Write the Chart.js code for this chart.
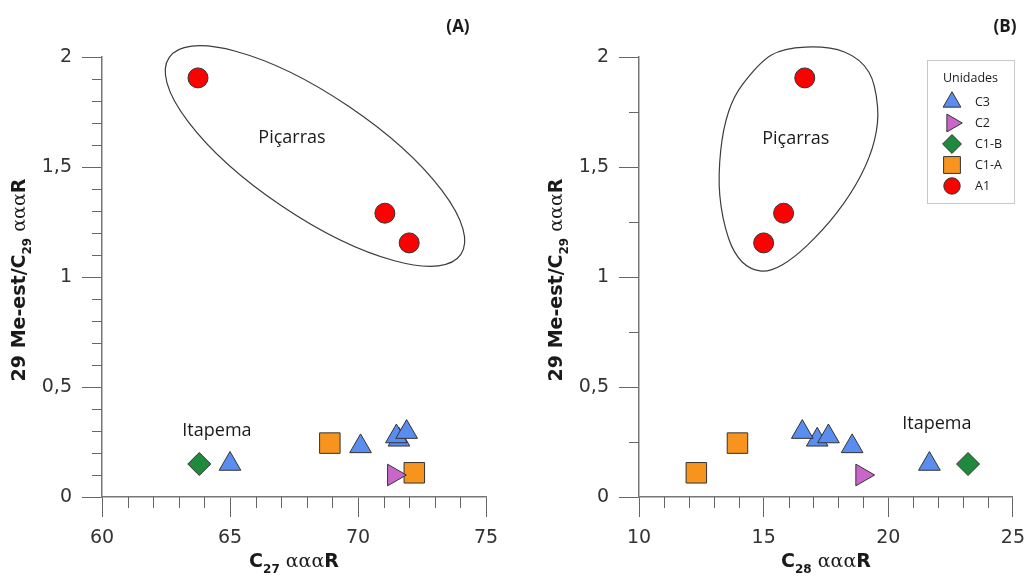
<!DOCTYPE html>
<html lang="pt">
<head>
<meta charset="utf-8">
<title>29 Me-est/C29 αααR vs C27 e C28 αααR</title>
<script src="https://cdn.jsdelivr.net/npm/chart.js@4.4.1/dist/chart.umd.min.js"></script>
<style>
  html, body { margin: 0; padding: 0; background: #fff; }
  canvas { position: absolute; top: 0; }
  #painelA { left: 0; }
  #painelB { left: 517px; }
</style>
</head>
<body>
<canvas id="painelA" width="517" height="578"></canvas>
<canvas id="painelB" width="518" height="578"></canvas>
<script>
// Unidades (legenda)
const unidades = ['C3', 'C2', 'C1-B', 'C1-A', 'A1'];

// 29 Me-est/C29 αααR — mesmo eixo y nos dois painéis
const meEstC3 = [0.15, 0.23, 0.26, 0.275, 0.295];
const meEstC2 = [0.10];
const meEstC1B = [0.15];
const meEstC1A = [0.245, 0.11];
const meEstA1 = [1.905, 1.29, 1.155];

// C27 αααR — painel (A)
const c27C3 = [65.0, 70.1, 71.6, 71.5, 71.9];
const c27C2 = [71.4];
const c27C1B = [63.8];
const c27C1A = [68.9, 72.2];
const c27A1 = [63.75, 71.05, 72.0];

// C28 αααR — painel (B)
const c28C3 = [21.65, 18.55, 17.15, 17.6, 16.55];
const c28C2 = [18.95];
const c28C1B = [23.2];
const c28C1A = [13.95, 12.3];
const c28A1 = [16.65, 15.8, 15.0];

// marcas com rótulo
const ticksY = [0, 0.5, 1, 1.5, 2];
const ticksXA = [60, 65, 70, 75];
const ticksXB = [10, 15, 20, 25];

const meEst = [meEstC3, meEstC2, meEstC1B, meEstC1A, meEstA1];

const estilos = [
  { forma: 'triangle', rot: 0,  r: 12.5, cor: '#5a8def' },
  { forma: 'triangle', rot: 90, r: 12.5, cor: '#c966c9' },
  { forma: 'rectRot',  rot: 0,  r: 11.5, cor: '#1f8a3c' },
  { forma: 'rect',     rot: 0,  r: 14.5, cor: '#f7941d' },
  { forma: 'circle',   rot: 0,  r: 10,   cor: '#ff0000' }
];

// contorno do grupo Piçarras no painel (B), em coordenadas dos dados
const contornoB = [
  [14.14, 1.873], [15.31, 2.009], [16.68, 2.045], [18.24, 2.023], [19.22, 1.932],
  [19.57, 1.773], [19.45, 1.623], [18.91, 1.464], [17.93, 1.291], [16.76, 1.145],
  [15.74, 1.055], [14.92, 1.027], [14.14, 1.068], [13.59, 1.177], [13.24, 1.373],
  [13.28, 1.577], [13.59, 1.75]
];

const pares = (xs, ys) => xs.map((x, i) => ({ x: x, y: ys[i] }));
const virgula = v => String(v).replace('.', ',');

// curva fechada suave (Catmull-Rom) passando pelos pontos
function curvaFechada(ctx, pts) {
  const n = pts.length;
  ctx.beginPath();
  ctx.moveTo(pts[0].x, pts[0].y);
  for (let i = 0; i < n; i++) {
    const p0 = pts[(i - 1 + n) % n], p1 = pts[i], p2 = pts[(i + 1) % n], p3 = pts[(i + 2) % n];
    ctx.bezierCurveTo(
      p1.x + (p2.x - p0.x) / 6, p1.y + (p2.y - p0.y) / 6,
      p2.x - (p3.x - p1.x) / 6, p2.y - (p3.y - p1.y) / 6,
      p2.x, p2.y);
  }
  ctx.closePath();
  ctx.stroke();
}

// texto com subscrito e fontes misturadas
function textoRico(ctx, partes, cx, cy, angulo) {
  ctx.save();
  ctx.translate(cx, cy);
  ctx.rotate(angulo);
  ctx.textAlign = 'left';
  ctx.textBaseline = 'alphabetic';
  ctx.fillStyle = '#1a1a1a';
  let total = 0;
  partes.forEach(p => { ctx.font = p.f; p.w = ctx.measureText(p.t).width; total += p.w; });
  let x = -total / 2;
  partes.forEach(p => { ctx.font = p.f; ctx.fillText(p.t, x, p.dy || 0); x += p.w; });
  ctx.restore();
}

const fTit = 'bold 19px "DejaVu Sans"';
const fSub = 'bold 12px "DejaVu Sans"';
const fAlfa = '19px "DejaVu Serif"';

function tituloX(n) {
  return [{ t: 'C', f: fTit }, { t: n, f: fSub, dy: 6 }, { t: ' ααα', f: fAlfa }, { t: 'R', f: fTit }];
}
const tituloY = [
  { t: '29 Me-est/C', f: fTit }, { t: '29', f: fSub, dy: 6 },
  { t: ' ααα', f: fAlfa }, { t: 'R', f: fTit }
];

function extrasPara(cfg) {
  return {
    id: 'extras',
    beforeDatasetsDraw(chart) {
      const { ctx, scales: { x, y } } = chart;
      ctx.save();
      ctx.strokeStyle = '#3c3c3c';
      ctx.lineWidth = 1.2;
      if (cfg.elipse) {
        const e = cfg.elipse;
        ctx.beginPath();
        ctx.ellipse(x.getPixelForValue(e.x), y.getPixelForValue(e.y), e.a, e.b, e.ang * Math.PI / 180, 0, 2 * Math.PI);
        ctx.stroke();
      }
      if (cfg.contorno) {
        curvaFechada(ctx, cfg.contorno.map(([a, b]) => ({ x: x.getPixelForValue(a), y: y.getPixelForValue(b) })));
      }
      ctx.restore();
    },
    afterDraw(chart) {
      const { ctx, scales: { x, y }, chartArea: ca } = chart;
      ctx.save();

      // marcas secundárias
      ctx.strokeStyle = '#666';
      ctx.lineWidth = 1;
      ctx.beginPath();
      for (let v = x.min + cfg.menorX; v < x.max - 1e-9; v += cfg.menorX) {
        const r = Math.round(v * 1000) / 1000;
        if (cfg.ticksX.includes(r)) continue;
        const px = Math.round(x.getPixelForValue(r)) + 0.5;
        ctx.moveTo(px, ca.bottom); ctx.lineTo(px, ca.bottom + 11);
      }
      for (let v = y.min + cfg.menorY; v < y.max - 1e-9; v += cfg.menorY) {
        const r = Math.round(v * 1000) / 1000;
        if (ticksY.includes(r)) continue;
        const py = Math.round(y.getPixelForValue(r)) + 0.5;
        ctx.moveTo(ca.left - 10, py); ctx.lineTo(ca.left, py);
      }
      ctx.stroke();

      // nomes dos grupos
      ctx.fillStyle = '#1a1a1a';
      ctx.font = '18px "Open Sans"';
      ctx.textAlign = 'center';
      ctx.textBaseline = 'middle';
      cfg.rotulos.forEach(r => ctx.fillText(r.texto, x.getPixelForValue(r.x), y.getPixelForValue(r.y)));

      // letra do painel
      ctx.font = 'bold 17px "Open Sans"';
      ctx.fillText(cfg.letra, cfg.letraPos[0], cfg.letraPos[1]);

      // títulos dos eixos
      textoRico(ctx, tituloX(cfg.sub), (ca.left + ca.right) / 2, 567, 0);
      textoRico(ctx, tituloY, cfg.tituloYx, 280, -Math.PI / 2);

      // legenda
      if (cfg.legenda) {
        const L = cfg.legenda;
        ctx.strokeStyle = '#c8c8c8';
        ctx.strokeRect(L.x + 0.5, L.y + 0.5, L.w, L.h);
        ctx.fillStyle = '#1a1a1a';
        ctx.font = '12.5px "Open Sans"';
        ctx.textAlign = 'center';
        ctx.fillText('Unidades', L.x + L.w / 2, L.y + 18);
        ctx.textAlign = 'left';
        unidades.forEach((u, i) => {
          const e = estilos[i];
          const yy = L.y + 42 + i * 21;
          ctx.fillStyle = e.cor;
          ctx.strokeStyle = '#333';
          ctx.lineWidth = 1;
          Chart.helpers.drawPoint(ctx, { pointStyle: e.forma, rotation: e.rot, radius: e.r * 0.82, borderWidth: 1 }, L.x + 25, yy);
          ctx.fillStyle = '#1a1a1a';
          ctx.fillText(u, L.x + 48, yy);
        });
      }
      ctx.restore();
    }
  };
}

function criarPainel(id, cfg) {
  const eixo = {
    grid: { drawOnChartArea: false, drawTicks: true, tickLength: 20, tickColor: '#666', tickWidth: 1 },
    border: { color: '#777', width: 1.5 },
    ticks: { font: { family: 'DejaVu Sans', size: 19 }, color: '#333', padding: 10, maxRotation: 0, callback: virgula }
  };
  return new Chart(document.getElementById(id), {
    type: 'scatter',
    data: {
      datasets: unidades.map((u, i) => ({
        label: u,
        data: pares(cfg.xs[i], meEst[i]),
        pointStyle: estilos[i].forma,
        rotation: estilos[i].rot,
        pointRadius: estilos[i].r,
        backgroundColor: estilos[i].cor,
        borderColor: '#333',
        borderWidth: 1
      }))
    },
    options: {
      responsive: false,
      animation: false,
      events: [],
      devicePixelRatio: 1,
      layout: { padding: { top: 57, right: cfg.padDir, left: 0, bottom: 0 } },
      plugins: { legend: { display: false }, tooltip: { enabled: false } },
      scales: {
        x: Object.assign({}, eixo, {
          type: 'linear', min: cfg.ticksX[0], max: cfg.ticksX[cfg.ticksX.length - 1],
          afterBuildTicks: s => { s.ticks = cfg.ticksX.map(v => ({ value: v })); },
          afterFit: s => { s.height = 81; }
        }),
        y: Object.assign({}, eixo, {
          type: 'linear', min: 0, max: 2,
          afterBuildTicks: s => { s.ticks = ticksY.map(v => ({ value: v })); },
          afterFit: s => { s.width = cfg.largY; }
        })
      }
    },
    plugins: [extrasPara(cfg)]
  });
}

criarPainel('painelA', {
  xs: [c27C3, c27C2, c27C1B, c27C1A, c27A1],
  ticksX: ticksXA, menorX: 1, menorY: 0.1,
  largY: 102, padDir: 31,
  elipse: { x: 68.32, y: 1.55, a: 176, b: 60, ang: 34 },
  rotulos: [{ texto: 'Piçarras', x: 67.42, y: 1.632 }, { texto: 'Itapema', x: 64.49, y: 0.30 }],
  letra: '(A)', letraPos: [458, 27],
  sub: '27', tituloYx: 25
});

criarPainel('painelB', {
  xs: [c28C3, c28C2, c28C1B, c28C1A, c28A1],
  ticksX: ticksXB, menorX: 1, menorY: 0.25,
  largY: 122, padDir: 12,
  contorno: contornoB,
  rotulos: [{ texto: 'Piçarras', x: 16.29, y: 1.627 }, { texto: 'Itapema', x: 21.95, y: 0.332 }],
  letra: '(B)', letraPos: [488, 27],
  sub: '28', tituloYx: 45,
  legenda: { x: 410, y: 60, w: 87, h: 143 }
});
</script>
</body>
</html>
